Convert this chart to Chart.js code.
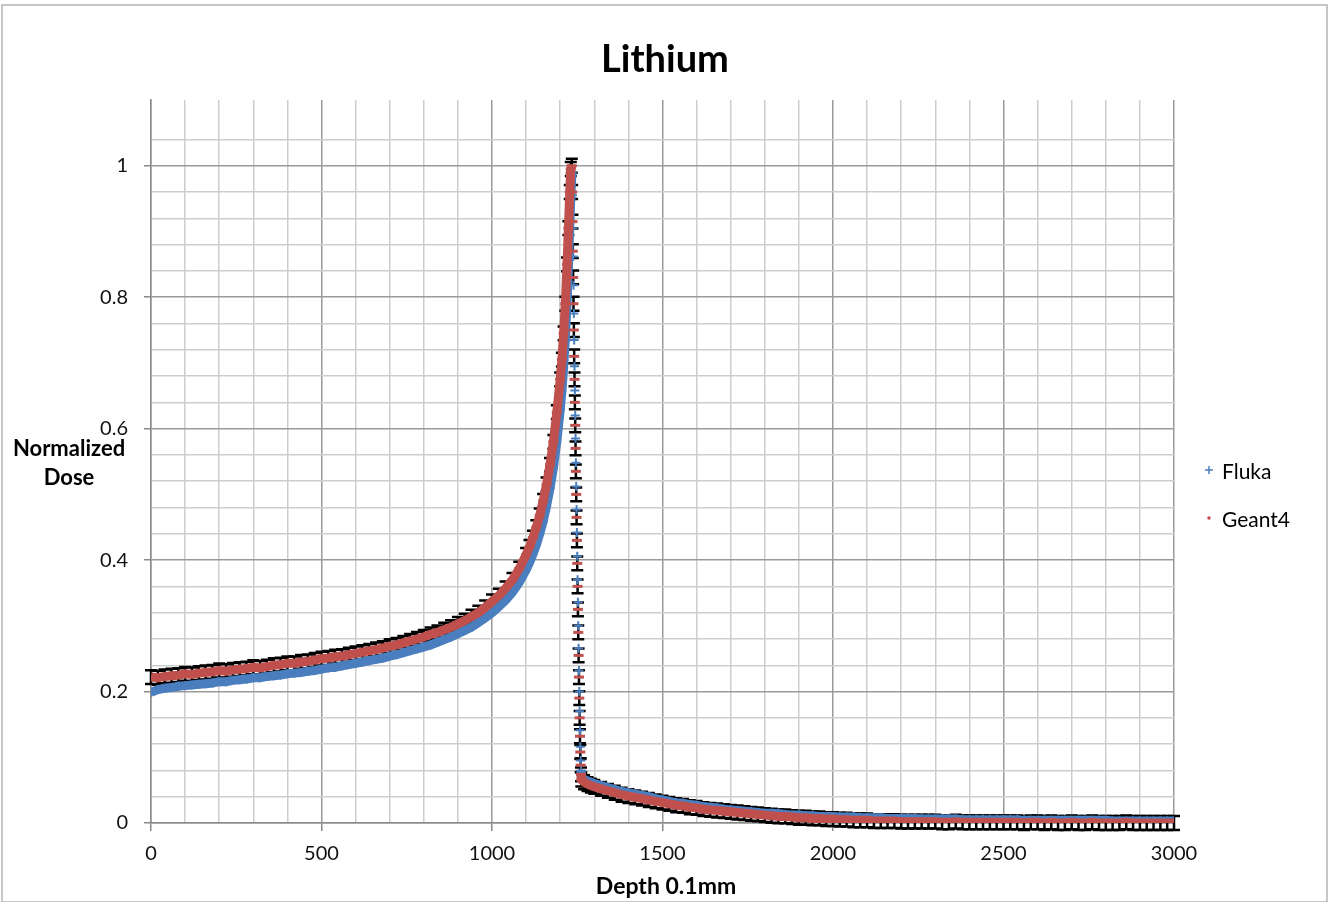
<!DOCTYPE html>
<html>
<head>
<meta charset="utf-8">
<title>Lithium</title>
<script src="https://cdn.jsdelivr.net/npm/chart.js@4.4.1/dist/chart.umd.min.js"></script>
<style>
  html, body { margin: 0; padding: 0; background: #fff; }
  #wrap { position: relative; width: 1330px; height: 902px; }
</style>
</head>
<body>
<div id="wrap"><canvas id="chart"></canvas></div>
<script>
// depth in units of 0.1 mm, shared by both series
var depth = [
  0,20,40,60,80,100,120,140,160,180,
  200,220,240,260,280,300,320,340,360,380,
  400,420,440,460,480,500,520,540,560,580,
  600,620,640,660,680,700,720,740,760,780,
  800,820,840,860,880,900,920,940,960,980,
  1000,1020,1040,1060,1080,1100,
  1110,1120,1130,1140,1150,1160,1170,1180,1190,1200,
  1205,1210,1215,1220,1224,1228,1231,
  1234,1235,1236,1237,1238,1239,1240,1241,1242,1243,1244,1245,1246,1247,1248,
  1249,1250,1251,1252,1253,1254,1255,1256,1257,1258,1259,1260,1261,1262,
  1270,1280,1290,1300,
  1320,1340,1360,1380,1400,1420,1440,1460,1480,1500,
  1520,1540,1560,1580,1600,1620,1640,1660,1680,1700,
  1720,1740,1760,1780,1800,1820,1840,1860,1880,1900,
  1920,1940,1960,1980,2000,2020,2040,2060,2080,2100,
  2120,2140,2160,2180,2200,2220,2240,2260,2280,2300,
  2320,2340,2360,2380,2400,2420,2440,2460,2480,2500,
  2520,2540,2560,2580,2600,2620,2640,2660,2680,2700,
  2720,2740,2760,2780,2800,2820,2840,2860,2880,2900,
  2920,2940,2960,2980,3000
];

var flukaDose = [
  0.199,0.203,0.205,0.206,0.208,0.209,0.210,0.211,0.212,0.213,
  0.215,0.215,0.217,0.218,0.219,0.221,0.221,0.223,0.224,0.225,
  0.227,0.228,0.229,0.231,0.232,0.234,0.236,0.237,0.239,0.241,
  0.243,0.245,0.247,0.249,0.251,0.254,0.256,0.259,0.262,0.265,
  0.268,0.271,0.275,0.279,0.283,0.288,0.293,0.298,0.305,0.312,
  0.320,0.329,0.339,0.351,0.366,0.385,
  0.396,0.409,0.423,0.440,0.459,0.482,0.509,0.540,0.580,0.628,
  0.657,0.692,0.735,0.790,0.845,0.905,0.950,
  0.985,0.990,0.955,0.905,0.862,0.818,0.775,0.735,0.695,0.658,0.620,0.585,0.548,0.512,0.477,
  0.442,0.406,0.370,0.336,0.300,0.266,0.232,0.200,0.170,0.141,0.116,0.095,0.080,0.071,
  0.066,0.064,0.062,0.060,
  0.057,0.054,0.051,0.048,0.046,0.044,0.042,0.040,0.037,0.035,
  0.033,0.031,0.030,0.028,0.027,0.025,0.024,0.023,0.021,0.020,
  0.019,0.018,0.017,0.016,0.015,0.015,0.014,0.013,0.012,0.012,
  0.011,0.011,0.010,0.010,0.010,0.009,0.009,0.009,0.008,0.008,
  0.008,0.008,0.007,0.007,0.007,0.007,0.007,0.006,0.006,0.006,
  0.006,0.006,0.006,0.005,0.005,0.005,0.005,0.005,0.005,0.005,
  0.005,0.005,0.004,0.004,0.004,0.004,0.004,0.004,0.004,0.004,
  0.004,0.004,0.004,0.004,0.004,0.003,0.003,0.003,0.003,0.003,
  0.003,0.003,0.003,0.003,0.003
];

var geant4Dose = [
  0.222,0.221,0.223,0.224,0.225,0.227,0.226,0.228,0.229,0.230,
  0.232,0.231,0.233,0.234,0.235,0.237,0.236,0.238,0.240,0.241,
  0.243,0.243,0.245,0.246,0.248,0.250,0.251,0.253,0.254,0.256,
  0.258,0.260,0.262,0.264,0.266,0.269,0.271,0.274,0.277,0.280,
  0.283,0.287,0.290,0.294,0.298,0.303,0.308,0.314,0.320,0.328,
  0.337,0.346,0.357,0.370,0.387,0.408,
  0.420,0.434,0.450,0.468,0.490,0.515,0.545,0.580,0.625,0.675,
  0.705,0.745,0.790,0.850,0.905,0.960,0.995,
  1.000,0.960,0.915,0.870,0.830,0.790,0.750,0.710,0.675,0.640,0.605,0.570,0.535,0.500,0.465,
  0.430,0.395,0.360,0.325,0.290,0.255,0.222,0.190,0.160,0.132,0.108,0.088,0.074,0.066,
  0.062,0.059,0.057,0.055,
  0.052,0.049,0.046,0.043,0.041,0.039,0.037,0.035,0.033,0.031,
  0.029,0.027,0.026,0.024,0.023,0.021,0.020,0.019,0.018,0.017,
  0.016,0.015,0.014,0.013,0.012,0.011,0.010,0.010,0.009,0.008,
  0.008,0.007,0.007,0.006,0.006,0.005,0.005,0.004,0.004,0.004,
  0.003,0.003,0.003,0.003,0.002,0.002,0.002,0.002,0.002,0.002,
  0.001,0.001,0.002,0.001,0.001,0.001,0.001,0.001,0.001,0.001,
  0.001,0.001,0.000,0.001,0.001,0.000,0.001,0.000,0.000,0.001,
  0.000,0.000,0.001,0.000,0.000,0.000,0.000,0.001,0.000,0.000,
  0.000,0.000,0.000,0.000,0.000
];

var geant4Err = 0.0105;     // fixed +/- error bar on the Geant4 points
var xMajor = 500, yMajor = 0.2;

var FONT = 'Lato, "Open Sans", sans-serif';
var BLUE = '#4a7ebf', RED = '#c0504d';

function isMajor(v, step) {
  var r = v / step;
  return Math.abs(r - Math.round(r)) < 1e-6;
}

function pts(ys) {
  return depth.map(function(d, i) { return { x: d, y: ys[i] }; });
}

// the dense scatter reads as a solid band, except on the sharp distal falloff
function band(color) {
  return function(c) {
    return c.p1.parsed.y < c.p0.parsed.y - 0.01 ? 'transparent' : color;
  };
}

// black error bars, drawn under the markers
var errorBars = {
  id: 'errorBars',
  beforeDatasetsDraw: function(chart) {
    var ctx = chart.ctx, xs = chart.scales.x, ys = chart.scales.y;
    ctx.save();
    ctx.strokeStyle = '#000';
    ctx.lineWidth = 2.5;
    chart.data.datasets.forEach(function(ds) {
      if (!ds.errorBar) return;
      ds.data.forEach(function(p) {
        var px = xs.getPixelForValue(p.x);
        var top = ys.getPixelForValue(p.y + ds.errorBar);
        var bot = ys.getPixelForValue(p.y - ds.errorBar);
        ctx.beginPath();
        ctx.moveTo(px, top); ctx.lineTo(px, bot);
        ctx.moveTo(px - 6, top); ctx.lineTo(px + 6, top);
        ctx.moveTo(px - 6, bot); ctx.lineTo(px + 6, bot);
        ctx.stroke();
      });
    });
    ctx.restore();
  }
};

// title, axis titles, legend and frame
var decor = {
  id: 'decor',
  afterDraw: function(chart) {
    var ctx = chart.ctx;
    ctx.save();
    ctx.strokeStyle = '#b4b4b4';
    ctx.lineWidth = 1.5;
    ctx.strokeRect(2, 5, 1325, 897);

    ctx.fillStyle = '#000';
    ctx.textAlign = 'center';
    ctx.textBaseline = 'middle';
    ctx.font = 'bold 38px ' + FONT;
    ctx.fillText('Lithium', 665, 60);

    ctx.font = 'bold 22px ' + FONT;
    ctx.fillText('Normalized', 69, 449);
    ctx.fillText('Dose', 69, 478);

    ctx.font = 'bold 23px ' + FONT;
    ctx.fillText('Depth 0.1mm', 666, 887);

    // legend
    var ds = chart.data.datasets;
    ctx.textAlign = 'left';
    ctx.font = '21px ' + FONT;
    ctx.fillStyle = '#000';
    ctx.fillText(ds[0].label, 1222, 472);
    ctx.fillText(ds[1].label, 1222, 520);
    ctx.strokeStyle = BLUE;
    ctx.lineWidth = 1.5;
    ctx.beginPath();
    ctx.moveTo(1205, 470); ctx.lineTo(1213, 470);
    ctx.moveTo(1209, 466); ctx.lineTo(1209, 474);
    ctx.stroke();
    ctx.fillStyle = RED;
    ctx.beginPath();
    ctx.arc(1209, 518, 1.8, 0, Math.PI * 2);
    ctx.fill();
    ctx.restore();
  }
};

var bg = {
  id: 'bg',
  beforeDraw: function(chart) {
    var ctx = chart.ctx;
    ctx.save();
    ctx.fillStyle = '#fff';
    ctx.fillRect(0, 0, chart.width, chart.height);
    ctx.restore();
  }
};

function gridColor(step, limit) {
  return function(c) {
    if (!c.tick || c.tick.value > limit) return 'transparent';
    return isMajor(c.tick.value, step) ? '#9a9a9a' : '#cdcdcd';
  };
}
function tickColor(step, limit) {
  return function(c) {
    return c.tick && c.tick.value <= limit && isMajor(c.tick.value, step) ? '#8a8a8a' : 'transparent';
  };
}

new Chart(document.getElementById('chart'), {
  type: 'scatter',
  data: {
    datasets: [
      { label: 'Fluka', data: pts(flukaDose), order: 2,
        showLine: true, borderWidth: 9, borderCapStyle: 'butt',
        segment: { borderColor: band(BLUE) },
        pointStyle: 'cross', pointRadius: 4.5, pointBorderWidth: 2,
        pointBorderColor: BLUE, borderColor: BLUE, backgroundColor: BLUE },
      { label: 'Geant4', data: pts(geant4Dose), order: 1, errorBar: geant4Err,
        showLine: true, borderWidth: 9, borderCapStyle: 'butt',
        segment: { borderColor: band(RED) },
        pointStyle: 'line', pointRadius: 5, pointBorderWidth: 3,
        pointBorderColor: RED, borderColor: RED, backgroundColor: RED }
    ]
  },
  options: {
    responsive: true,
    maintainAspectRatio: false,
    animation: false,
    events: [],
    layout: { padding: { left: 0, right: 156, top: 100, bottom: 0 } },
    plugins: { legend: { display: false }, title: { display: false }, tooltip: { enabled: false } },
    scales: {
      x: {
        type: 'linear', min: 0, max: 3000,
        afterFit: function(s) { s.height = 79; },
        border: { color: '#8a8a8a', width: 1.5 },
        grid: { color: gridColor(xMajor, 3001), lineWidth: 1.5, tickLength: 8, tickColor: tickColor(xMajor, 3001) },
        ticks: {
          stepSize: 100, autoSkip: false, maxRotation: 0, padding: 11,
          color: '#111', font: { family: FONT, size: 20 },
          callback: function(v) { return isMajor(v, xMajor) ? String(v) : ''; }
        }
      },
      y: {
        type: 'linear', min: 0, max: 1.1,
        afterFit: function(s) { s.width = 151; },
        border: { color: '#8a8a8a', width: 1.5 },
        grid: { color: gridColor(yMajor, 1.09), lineWidth: 1.5, tickLength: 7, tickColor: tickColor(yMajor, 1.09) },
        ticks: {
          stepSize: 0.04, autoSkip: false, padding: 16,
          color: '#111', font: { family: FONT, size: 20 },
          callback: function(v) { return isMajor(v, yMajor) ? String(Math.round(v * 10) / 10) : ''; }
        }
      }
    }
  },
  plugins: [bg, errorBars, decor]
});
</script>
</body>
</html>
